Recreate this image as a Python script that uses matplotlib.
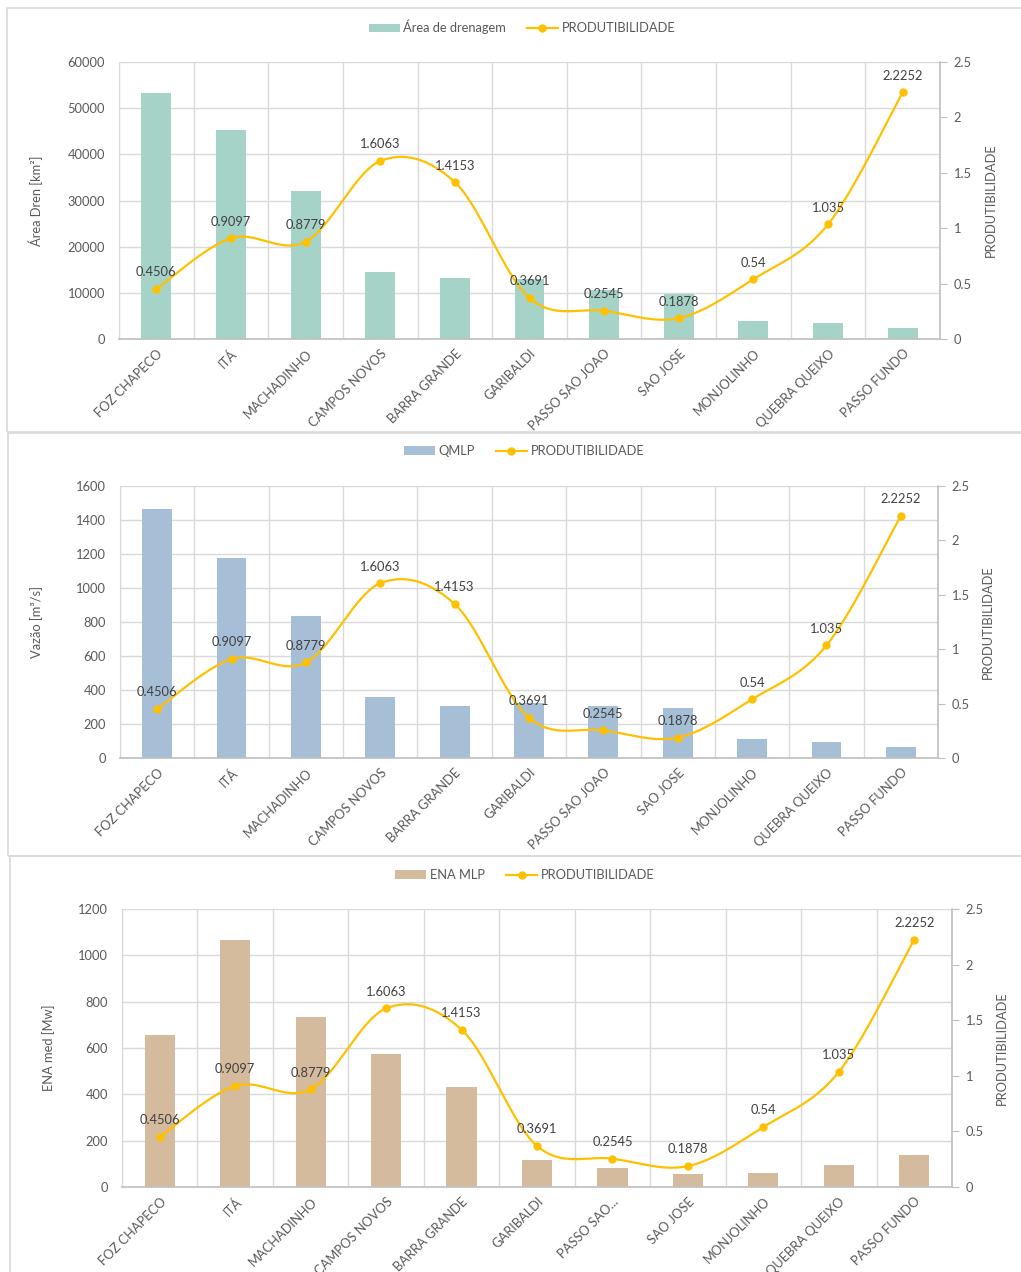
import numpy as np
import matplotlib
matplotlib.use("Agg")
import matplotlib.pyplot as plt
from matplotlib.patches import Rectangle, Patch
from matplotlib.lines import Line2D

plt.rcParams['font.family'] = ['Lato', 'DejaVu Sans']

# ---- data ----
usinas = ["FOZ CHAPECO", "ITÁ", "MACHADINHO", "CAMPOS NOVOS", "BARRA GRANDE",
          "GARIBALDI", "PASSO SAO JOAO", "SAO JOSE", "MONJOLINHO",
          "QUEBRA QUEIXO", "PASSO FUNDO"]
usinas_ena = ["FOZ CHAPECO", "ITÁ", "MACHADINHO", "CAMPOS NOVOS", "BARRA GRANDE",
              "GARIBALDI", "PASSO SAO...", "SAO JOSE", "MONJOLINHO",
              "QUEBRA QUEIXO", "PASSO FUNDO"]
produtibilidade = [0.4506, 0.9097, 0.8779, 1.6063, 1.4153, 0.3691,
                   0.2545, 0.1878, 0.54, 1.035, 2.2252]
area_drenagem = [53200, 45200, 32000, 14500, 13200, 13100,
                 10600, 9750, 3970, 3530, 2310]
qmlp = [1462, 1174, 836, 357, 306, 324, 308, 297, 112, 92, 65]
ena_mlp = [658, 1066, 735, 572, 432, 118, 81, 55, 60, 96, 140]

TXT = "#595959"
GRID = "#D9D9D9"
AXIS = "#BFBFBF"
GOLD = "#FFC000"

W, H = 1021, 1272
fig = plt.figure(figsize=(W / 100, H / 100), dpi=100)


def fx(x):
    return x / W


def fy(y):
    return 1 - y / H


def catmull_rom(y, n=40):
    """Smoothed line through the points (uniform Catmull-Rom)."""
    y = np.asarray(y, float)
    x = np.arange(len(y), dtype=float)
    px = np.concatenate([[x[0]], x, [x[-1]]])
    py = np.concatenate([[y[0]], y, [y[-1]]])
    xs, ys = [], []
    t = np.linspace(0, 1, n)
    for i in range(1, len(px) - 2):
        p0x, p1x, p2x, p3x = px[i - 1:i + 3]
        p0y, p1y, p2y, p3y = py[i - 1:i + 3]
        m1x, m2x = (p2x - p0x) / 2, (p3x - p1x) / 2
        m1y, m2y = (p2y - p0y) / 2, (p3y - p1y) / 2
        h00 = 2 * t**3 - 3 * t**2 + 1
        h10 = t**3 - 2 * t**2 + t
        h01 = -2 * t**3 + 3 * t**2
        h11 = t**3 - t**2
        xs.append(h00 * p1x + h10 * m1x + h01 * p2x + h11 * m2x)
        ys.append(h00 * p1y + h10 * m1y + h01 * p2y + h11 * m2y)
    return np.concatenate(xs), np.concatenate(ys)


def panel(box, plot, values, cats, color, bar_label, ylabel, ymax, ystep,
          legend_xy, ylab_x, ylab2_x):
    # outer chart frame
    bx0, by0, by1 = box
    fig.patches.append(Rectangle((fx(bx0), fy(by1)), fx(W + 10 - bx0), fy(by0) - fy(by1),
                                 transform=fig.transFigure, fill=False,
                                 edgecolor=GRID, linewidth=1.2))
    x0, x1, y0, y1 = plot
    ax = fig.add_axes([fx(x0), fy(y1), fx(x1 - x0), fy(y0) - fy(y1)])
    n = len(cats)
    xs = np.arange(n)
    ax.bar(xs, values, width=0.4, color=color, zorder=2)
    ax.set_xlim(-0.5, n - 0.5)
    ax.set_ylim(0, ymax)
    ax.set_yticks(np.arange(0, ymax + ystep / 2, ystep))
    ax.set_yticklabels([f"{int(v)}" for v in np.arange(0, ymax + ystep / 2, ystep)])
    ax.set_xticks(xs)
    ax.set_xticklabels(cats, rotation=45, ha="right", rotation_mode="anchor")
    ax.set_xticks(np.arange(-0.5, n, 1), minor=True)
    ax.grid(axis="y", color=GRID, linewidth=1.0, zorder=0)
    ax.grid(axis="x", which="minor", color=GRID, linewidth=1.0, zorder=0)
    ax.grid(axis="x", which="major", visible=False)
    ax.set_axisbelow(True)
    ax.tick_params(axis="both", which="both", length=0, colors=TXT, labelsize=9.3)
    ax.tick_params(axis="y", pad=10)
    ax.tick_params(axis="x", pad=6)
    for s in ("top", "right"):
        ax.spines[s].set_visible(False)
    ax.spines["left"].set_color(GRID)
    ax.spines["bottom"].set_color(AXIS)
    ax.spines["bottom"].set_linewidth(1.2)
    ax.set_ylabel(ylabel, color=TXT, fontsize=9.3)
    ax.yaxis.set_label_coords((ylab_x - x0) / (x1 - x0), 0.5)

    ax2 = ax.twinx()
    ax2.set_ylim(0, 2.5)
    ticks2 = [0, 0.5, 1, 1.5, 2, 2.5]
    ax2.set_yticks(ticks2)
    ax2.set_yticklabels([f"{v:g}" for v in ticks2])
    ax2.tick_params(axis="y", length=5, color=AXIS, colors=TXT, labelsize=9.3, pad=5)
    ax2.tick_params(axis="y", color=AXIS)
    for s in ("top", "left", "bottom"):
        ax2.spines[s].set_visible(False)
    ax2.spines["right"].set_color(AXIS)
    ax2.spines["right"].set_linewidth(1.2)
    sx, sy = catmull_rom(produtibilidade)
    ax2.plot(sx, sy, color=GOLD, linewidth=1.6, zorder=3)
    ax2.plot(xs, produtibilidade, linestyle="none", marker="o", markersize=5,
             color=GOLD, zorder=4)
    for xi, v in zip(xs, produtibilidade):
        ax2.annotate(f"{v:g}", (xi, v), xytext=(0, 12), textcoords="offset points",
                     ha="center", va="center", color="#404040", fontsize=9.3, zorder=5)
    ax2.set_ylabel("PRODUTIBILIDADE", color=TXT, fontsize=9.3)
    ax2.yaxis.set_label_coords((ylab2_x - x0) / (x1 - x0), 0.5)

    handles = [Patch(facecolor=color, edgecolor="none"),
               Line2D([0], [0], color=GOLD, linewidth=1.6, marker="o", markersize=5)]
    fig.legend(handles, [bar_label, "PRODUTIBILIDADE"], loc="center",
               bbox_to_anchor=(fx(legend_xy[0]), fy(legend_xy[1])), ncol=2,
               frameon=False, fontsize=9.3, labelcolor=TXT, handlelength=2.4,
               handleheight=0.6, handletextpad=0.3, columnspacing=1.6)
    return ax, ax2


panel((7, 8, 432), (119, 940, 62, 339), area_drenagem, usinas, "#A6D3C8",
      "Área de drenagem", "Área Dren [km²]", 60000, 10000, (522, 27), 43, 985)
panel((8, 433, 856), (120, 938, 486, 758), qmlp, usinas, "#A6BED6",
      "QMLP", "Vazão [m³/s]", 1600, 200, (524, 451), 43, 982)
panel((10, 856, 1280), (122, 952, 909, 1187), ena_mlp, usinas_ena, "#D5BB9E",
      "ENA MLP", "ENA med [Mw]", 1200, 200, (525, 875), 55, 996)

fig.savefig("out.png", dpi=100, facecolor="white")
